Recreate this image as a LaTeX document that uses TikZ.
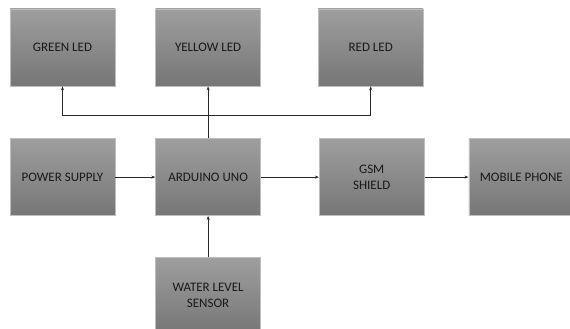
\documentclass[tikz,border=0pt]{standalone}
\usepackage{fontspec}
\setmainfont{Carlito}
\usetikzlibrary{arrows.meta, positioning, calc}
\definecolor{boxtop}{RGB}{158,158,158}
\definecolor{boxbot}{RGB}{118,118,118}
\definecolor{boxedge}{RGB}{190,190,190}
\definecolor{linecol}{RGB}{40,40,40}
\tikzset{
  blockbox/.style={rectangle,draw=boxedge,line width=0.6pt,top color=boxtop,bottom color=boxbot,
    minimum width=105pt,minimum height=77pt,align=center,text=black!90,
    font=\fontsize{13}{16}\selectfont,inner sep=2pt},
  arr/.style={-{Stealth[length=4pt,width=3pt]},line width=0.7pt,color=linecol}
}

\begin{document}
\begin{tikzpicture}[node distance=52pt and 40pt]
  \clip (0,0) rectangle (570pt,-329pt);

  \node[blockbox] (green) at (62.5pt,-47.5pt) {GREEN LED};
  \node[blockbox,right=40pt of green] (yellow) {YELLOW LED};
  \node[blockbox,right=57pt of yellow] (red) {RED LED};

  \node[blockbox,below=52pt of green] (power) {POWER SUPPLY};
  \node[blockbox,right=40pt of power] (arduino) {ARDUINO UNO};
  \node[blockbox,right=58pt of arduino] (gsm) {GSM\\SHIELD};
  \node[blockbox,right=44pt of gsm] (mobile) {MOBILE PHONE};

  \node[blockbox,below=41pt of arduino] (water) {WATER LEVEL\\SENSOR};

  \coordinate (bus) at ($(arduino.north)!0.44!(yellow.south)$);

  \draw[arr] (arduino.north) -- (yellow.south);
  \draw[arr] (bus) -| (green.south);
  \draw[arr] (bus) -| (red.south);
  \draw[arr] (power.east) -- (arduino.west);
  \draw[arr] (arduino.east) -- (gsm.west);
  \draw[arr] (gsm.east) -- (mobile.west);
  \draw[arr] (water.north) -- (arduino.south);
\end{tikzpicture}
\end{document}
